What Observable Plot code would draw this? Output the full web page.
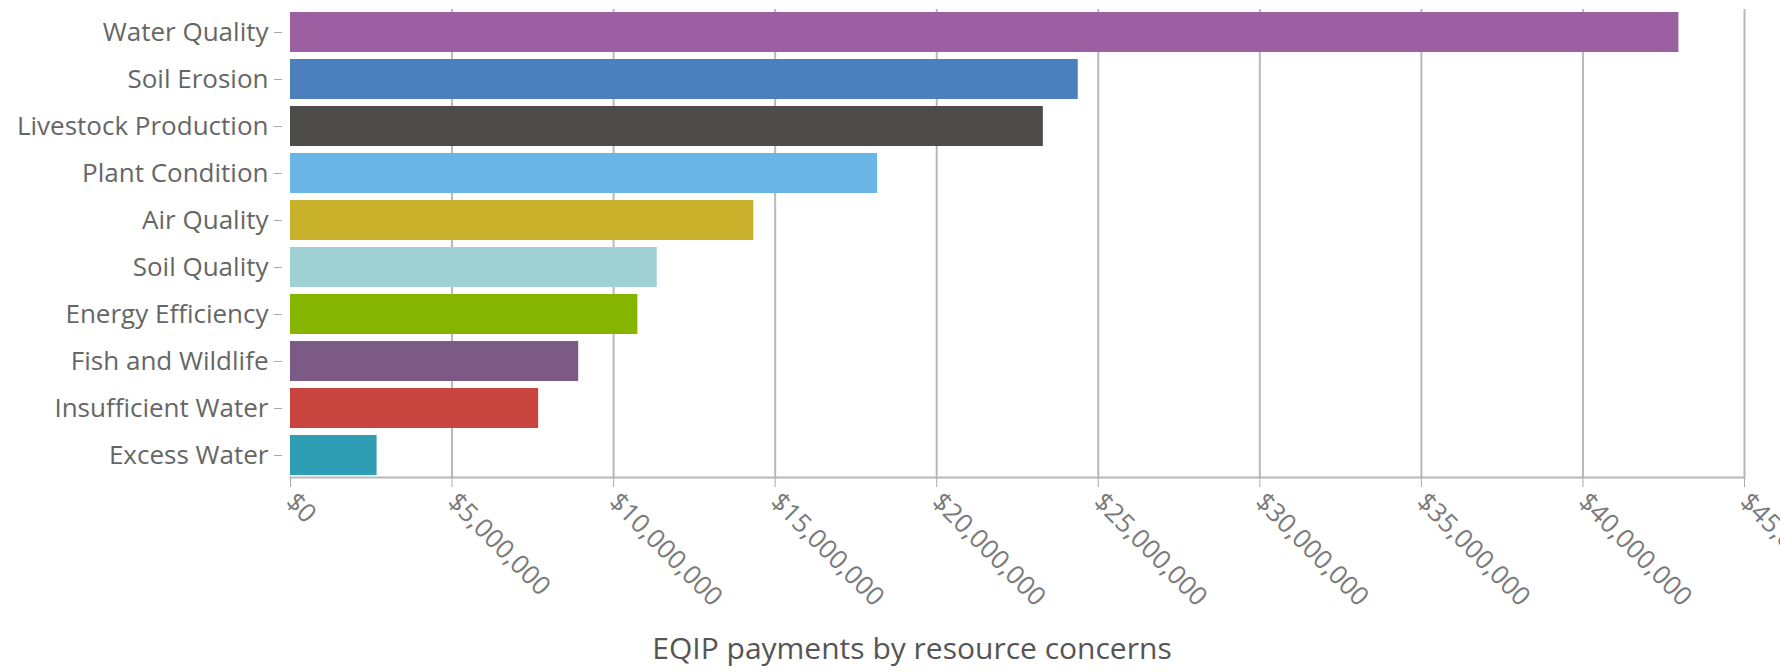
<!DOCTYPE html>
<html>
<head>
<meta charset="utf-8">
<script src="https://cdn.jsdelivr.net/npm/d3@7"></script>
<script src="https://cdn.jsdelivr.net/npm/@observablehq/plot@0.6"></script>
<style>
  html, body { margin: 0; padding: 0; background: #fff; overflow: hidden; }
  #chart svg { display: block; }
  #title {
    width: 1824px; text-align: center; font-family: "Open Sans", sans-serif;
    font-size: 30px; color: #555; height: 47px; line-height: 46px; white-space: nowrap;
  }
</style>
</head>
<body>
<div id="chart"></div>
<div id="title">EQIP payments by resource concerns</div>
<script>
const categories = [
  "Water Quality", "Soil Erosion", "Livestock Production", "Plant Condition",
  "Air Quality", "Soil Quality", "Energy Efficiency", "Fish and Wildlife",
  "Insufficient Water", "Excess Water"
];
const payments = [42970000, 24380000, 23300000, 18170000, 14340000, 11350000, 10750000, 8920000, 7680000, 2680000];
const barColors = ["#9c5fa2", "#4b7fbd", "#4e4c4a", "#68b5e6", "#c9b12c", "#9ed0d4", "#86b500", "#7b5a86", "#c7443f", "#2f9db3"];
const xTickValues = [0, 5000000, 10000000, 15000000, 20000000, 25000000, 30000000, 35000000, 40000000, 45000000];
const xDomain = [0, 45000000];

const data = categories.map((name, i) => ({name, value: payments[i], color: barColors[i]}));
const fmt = d3.format(",");

const chart = Plot.plot({
  width: 1780,
  height: 625,
  marginLeft: 290,
  marginRight: 36,
  marginTop: 9,
  marginBottom: 148,
  style: {fontFamily: "'Open Sans', sans-serif", background: "#fff"},
  x: {domain: xDomain, ticks: xTickValues, label: null},
  y: {domain: categories, paddingInner: 0.15, paddingOuter: 0.05, label: null},
  color: {type: "identity"},
  marks: [
    Plot.gridX(xTickValues.slice(1), {stroke: "#b8b8b8", strokeOpacity: 1, strokeWidth: 2}),
    Plot.barX(data, {x: "value", y: "name", fill: "color"}),
    Plot.frame({anchor: "bottom", stroke: "#b8b8b8", strokeWidth: 2}),
    Plot.axisX(xTickValues, {
      tickRotate: 45, tickSize: 10, tickPadding: 10, fontSize: 26,
      stroke: "#aaa", fill: "#7a7a7a",
      tickFormat: d => "$" + fmt(d)
    }),
    Plot.axisY({tickSize: 8, dx: -8, stroke: "#aaa", tickFormat: () => ""}),
    Plot.axisY({tickSize: 0, tickPadding: 22, fontSize: 26, fill: "#666"})
  ]
});
document.getElementById("chart").append(chart);
</script>
</body>
</html>
